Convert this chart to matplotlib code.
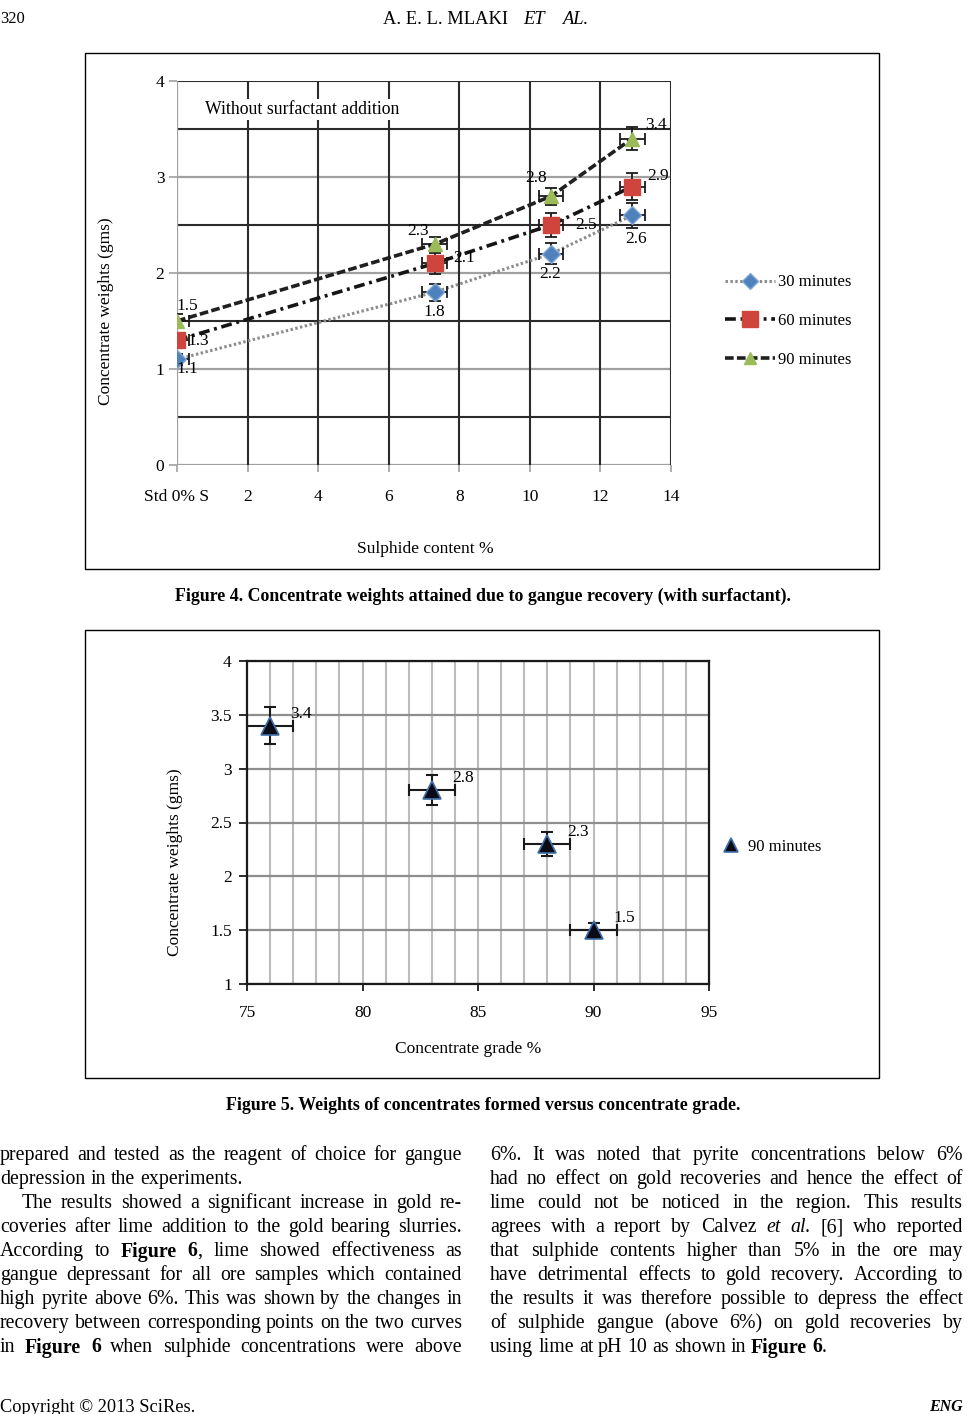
import re
import matplotlib
matplotlib.use('Agg')
import matplotlib.pyplot as plt
from matplotlib.lines import Line2D
from matplotlib.patches import Rectangle
from matplotlib.ticker import MultipleLocator

W, H, DPI = 967, 1414, 100
SERIF = ['Liberation Serif', 'DejaVu Serif']
plt.rcParams['font.family'] = SERIF

# ---------------- Figure 4 data ----------------
sulphide = [0, 7.3, 10.6, 12.9]
w30 = [1.1, 1.8, 2.2, 2.6]
w60 = [1.3, 2.1, 2.5, 2.9]
w90 = [1.5, 2.3, 2.8, 3.4]
err30 = [0.06, 0.09, 0.11, 0.13]
err60 = [0.07, 0.11, 0.12, 0.14]
err90 = [0.07, 0.07, 0.09, 0.12]
xerr4 = [0.35, 0.35, 0.35, 0.35]
xticks4 = [0, 2, 4, 6, 8, 10, 12, 14]
xticklabels4 = ['Std 0% S', '2', '4', '6', '8', '10', '12', '14']
yticks4 = [0, 1, 2, 3, 4]
series4 = ['30 minutes', '60 minutes', '90 minutes']

# ---------------- Figure 5 data ----------------
grade = [76, 83, 88, 90]
w90_grade = [3.4, 2.8, 2.3, 1.5]
yerr5 = [0.17, 0.14, 0.11, 0.07]
xerr5 = [1, 1, 1, 1]
xticks5 = [75, 80, 85, 90, 95]
yticks5 = [1, 1.5, 2, 2.5, 3, 3.5, 4]
yticklabels5 = ['1', '1.5', '2', '2.5', '3', '3.5', '4']
series5 = '90 minutes'

CF = 12.5  # chart font size


def fbox(x0, y0, x1, y1):
    return [x0 / W, 1 - y1 / H, (x1 - x0) / W, (y1 - y0) / H]


def fx(x):
    return x / W


def fy(y):
    return 1 - y / H


fig = plt.figure(figsize=(W / DPI, H / DPI), dpi=DPI)
fig.patch.set_facecolor('white')

# frames around figures
for (x0, y0, x1, y1) in [(85, 53, 879, 569), (85, 630, 879, 1078)]:
    b = fbox(x0, y0, x1, y1)
    fig.add_artist(Rectangle((b[0], b[1]), b[2], b[3], transform=fig.transFigure,
                             fill=False, edgecolor='black', lw=1.0))

tick_font = dict(family=SERIF, size=CF)

# ================= Figure 4 =================
ax4 = fig.add_axes(fbox(177, 81, 671, 465))
ax4.set_xlim(0, 14)
ax4.set_ylim(0, 4)
for s in ax4.spines.values():
    s.set_visible(False)
dark, grey = '#2b2b2b', '#a0a0a0'
for yv in [0.5, 1.5, 2.5, 3.5, 4.0]:
    ax4.axhline(yv, color=dark, lw=1.5, zorder=1)
for yv in [0, 1, 2, 3]:
    ax4.axhline(yv, color=grey, lw=1.6, zorder=1)
for xv in xticks4[1:]:
    ax4.axvline(xv, color=dark, lw=1.5, zorder=1)
ax4.axvline(0, color=grey, lw=1.6, zorder=1)
ax4.set_xticks(xticks4)
ax4.set_xticklabels(xticklabels4, fontdict=tick_font)
ax4.set_yticks(yticks4)
ax4.set_yticklabels([str(v) for v in yticks4], fontdict=tick_font)
ax4.tick_params(axis='x', length=5, color=grey, width=1.2, pad=12)
ax4.tick_params(axis='y', length=6, color=grey, width=1.2, pad=3)

styles4 = [
    dict(color='#8c8c8c', lw=2.2, ls=(0, (0.8, 0.8)), marker='D', ms=9,
         mfc='#4F81BD', mec='#7fa7d6'),
    dict(color='#151515', lw=2.6, ls=(0, (3.0, 1.3, 0.8, 1.3)), marker='s', ms=12,
         mfc='#D0443E', mec='#D0443E'),
    dict(color='#202020', lw=2.6, ls=(0, (2.4, 0.9)), marker='^', ms=9.5,
         mfc='#9BBB59', mec='#9BBB59'),
]
vals4 = [w30, w60, w90]
errs4 = [err30, err60, err90]
handles4 = []
for v, e, st, name in zip(vals4, errs4, styles4, series4):
    ax4.plot(sulphide, v, color=st['color'], lw=st['lw'], ls=st['ls'], zorder=3)
    ax4.errorbar(sulphide, v, yerr=e, xerr=xerr4, fmt='none', ecolor='#1a1a1a',
                 elinewidth=1.3, capsize=4, capthick=1.3, zorder=4)
    ax4.plot(sulphide, v, ls='none', marker=st['marker'], ms=st['ms'],
             mfc=st['mfc'], mec=st['mec'], zorder=5)
    handles4.append(Line2D([], [], color=st['color'], lw=st['lw'], ls=st['ls'],
                           marker=st['marker'], ms=st['ms'] * 0.95, mfc=st['mfc'],
                           mec=st['mec'], label=name))

# data labels (offsets in pixels)
offs4 = [
    [(10, -10), (0, -20), (-1, -20), (4, -24)],
    [(21, -1), (30, 5), (35, 0), (26, 11)],
    [(10, 15), (-17, 13), (-15, 18), (24, 14)],
]
for v, offs in zip(vals4, offs4):
    for xv, yv, o in zip(sulphide, v, offs):
        ax4.annotate(f'{yv:.1f}', (xv, yv), xytext=o, textcoords='offset pixels',
                     ha='center', va='center', fontsize=CF, zorder=6,
                     annotation_clip=False)

ax4.text(0.8, 3.7, 'Without surfactant addition', fontsize=CF + 0.3, va='center',
         ha='left', zorder=2,
         bbox=dict(facecolor='white', edgecolor='none', pad=1.5))
fig.text(fx(425), fy(549), 'Sulphide content %', ha='center', va='center', fontsize=CF)
fig.text(fx(106), fy(311), 'Concentrate weights (gms)', ha='center', va='center',
         rotation=90, fontsize=CF)
ax4.legend(handles=handles4, loc='center left', bbox_to_anchor=(fx(710), fy(321)),
           bbox_transform=fig.transFigure, frameon=False, handlelength=3.0,
           handletextpad=0.2, labelspacing=1.35, numpoints=1,
           prop=dict(family=SERIF, size=CF - 0.5))

# ================= Figure 5 =================
ax5 = fig.add_axes(fbox(247, 661, 709, 984))
ax5.set_xlim(75, 95)
ax5.set_ylim(1, 4)
for s in ax5.spines.values():
    s.set_color('#1a1a1a')
    s.set_linewidth(1.6)
ax5.xaxis.set_minor_locator(MultipleLocator(1))
ax5.yaxis.set_minor_locator(MultipleLocator(0.5))
ax5.grid(which='both', axis='x', color='#bcbcbc', lw=1.5)
ax5.grid(which='both', axis='y', color='#8e8e8e', lw=1.6)
ax5.set_axisbelow(True)
ax5.set_xticks(xticks5)
ax5.set_xticklabels([str(v) for v in xticks5], fontdict=tick_font)
ax5.set_yticks(yticks5)
ax5.set_yticklabels(yticklabels5, fontdict=tick_font)
ax5.tick_params(axis='both', which='minor', length=0)
ax5.tick_params(axis='x', which='major', length=5, color='#1a1a1a', width=1.3, pad=10)
ax5.tick_params(axis='y', which='major', length=6, color='#1a1a1a', width=1.3, pad=5)
ax5.errorbar(grade, w90_grade, yerr=yerr5, xerr=xerr5, fmt='none', ecolor='#1a1a1a',
             elinewidth=1.5, capsize=4, capthick=1.5, zorder=4)
ax5.plot(grade, w90_grade, ls='none', marker='^', ms=12.5, mfc='#0b0b18',
         mec='#3f6fa8', mew=1.2, zorder=5, label=series5)
for xv, yv in zip(grade, w90_grade):
    ax5.annotate(f'{yv:.1f}', (xv, yv), xytext=(31, 12), textcoords='offset pixels',
                 ha='center', va='center', fontsize=CF, zorder=6)
ax5.legend(loc='center left', bbox_to_anchor=(fx(706), fy(847)),
           bbox_transform=fig.transFigure, frameon=False, handlelength=1.2,
           handletextpad=0.4, numpoints=1, markerscale=0.85,
           prop=dict(family=SERIF, size=CF - 0.5))
fig.text(fx(468), fy(1049), 'Concentrate grade %', ha='center', va='center', fontsize=CF)
fig.text(fx(175), fy(862), 'Concentrate weights (gms)', ha='center', va='center',
         rotation=90, fontsize=CF)

# ================= captions =================
fig.text(fx(483), fy(596), 'Figure 4. Concentrate weights attained due to gangue recovery (with surfactant).',
         ha='center', va='center', fontsize=12.9, fontweight='bold')
fig.text(fx(483), fy(1106), 'Figure 5. Weights of concentrates formed versus concentrate grade.',
         ha='center', va='center', fontsize=12.9, fontweight='bold')

# ================= running text =================
renderer = fig.canvas.get_renderer()


def style_kw(st):
    kw = {}
    if 'b' in st:
        kw['fontweight'] = 'bold'
    if 'i' in st:
        kw['fontstyle'] = 'italic'
    return kw


def parse_line(line):
    words = []
    for w in line.split(' '):
        if not w:
            continue
        segs = []
        for part in re.split(r'(\*\*[^*]+\*\*|\*[^*]+\*)', w):
            if not part:
                continue
            if part.startswith('**'):
                segs.append((part[2:-2], 'b'))
            elif part.startswith('*'):
                segs.append((part[1:-1], 'i'))
            else:
                segs.append((part, ''))
        words.append(segs)
    return words


def measure(s, size, st=''):
    t = fig.text(0, 0, s, fontsize=size, **style_kw(st))
    wdt = t.get_window_extent(renderer).width
    t.remove()
    return wdt


def draw_line(line, x0, x1, yc, size, justify=True):
    words = parse_line(line)
    space = measure('x x', size) - measure('xx', size)
    items = []
    total = 0
    for segs in words:
        ws = []
        for s, st in segs:
            wd = measure(s, size, st)
            ws.append((s, st, wd))
            total += wd
        items.append(ws)
    n = len(items)
    if justify and n > 1:
        gap = (x1 - x0 - total) / (n - 1)
    else:
        gap = space
    x = x0
    for ws in items:
        for s, st, wd in ws:
            fig.text(fx(x), fy(yc), s, fontsize=size, va='center_baseline',
                     ha='left', **style_kw(st))
            x += wd
        x += gap


BODY = 14.3
left_lines = [
    ('prepared and tested as the reagent of choice for gangue', 0, True),
    ('depression in the experiments.', 0, False),
    ('The results showed a significant increase in gold re-', 22, True),
    ('coveries after lime addition to the gold bearing slurries.', 0, True),
    ('According to **Figure** **6**, lime showed effectiveness as', 0, True),
    ('gangue depressant for all ore samples which contained', 0, True),
    ('high pyrite above 6%. This was shown by the changes in', 0, True),
    ('recovery between corresponding points on the two curves', 0, True),
    ('in **Figure** **6** when sulphide concentrations were above', 0, True),
]
right_lines = [
    ('6%. It was noted that pyrite concentrations below 6%', True),
    ('had no effect on gold recoveries and hence the effect of', True),
    ('lime could not be noticed in the region. This results', True),
    ('agrees with a report by Calvez *et* *al.* [6] who reported', True),
    ('that sulphide contents higher than 5% in the ore may', True),
    ('have detrimental effects to gold recovery. According to', True),
    ('the results it was therefore possible to depress the effect', True),
    ('of sulphide gangue (above 6%) on gold recoveries by', True),
    ('using lime at pH 10 as shown in **Figure** **6**.', False),
]
for i, (ln, x0, just) in enumerate(left_lines):
    draw_line(ln, x0, 462, 1153 + 24 * i, BODY, justify=just)
for i, (ln, just) in enumerate(right_lines):
    draw_line(ln, 490, 963, 1153 + 24 * i, BODY, justify=just)

# header / footer
fig.text(fx(0), fy(17), '320', fontsize=12, ha='left', va='center_baseline')
fig.text(fx(383), fy(17), 'A. E. L. MLAKI', fontsize=13.3, ha='left', va='center_baseline')
fig.text(fx(523), fy(17), 'ET', fontsize=13.3, ha='left', va='center_baseline',
         fontstyle='italic')
fig.text(fx(562), fy(17), 'AL.', fontsize=13.3, ha='left', va='center_baseline',
         fontstyle='italic')
fig.text(fx(0), fy(1405), 'Copyright \u00a9 2013 SciRes.', fontsize=13.2, ha='left',
         va='center_baseline')
fig.text(fx(963), fy(1405), 'ENG', fontsize=11.5, ha='right', va='center_baseline',
         fontweight='bold', fontstyle='italic')

fig.savefig('out.png', dpi=DPI, facecolor='white')
